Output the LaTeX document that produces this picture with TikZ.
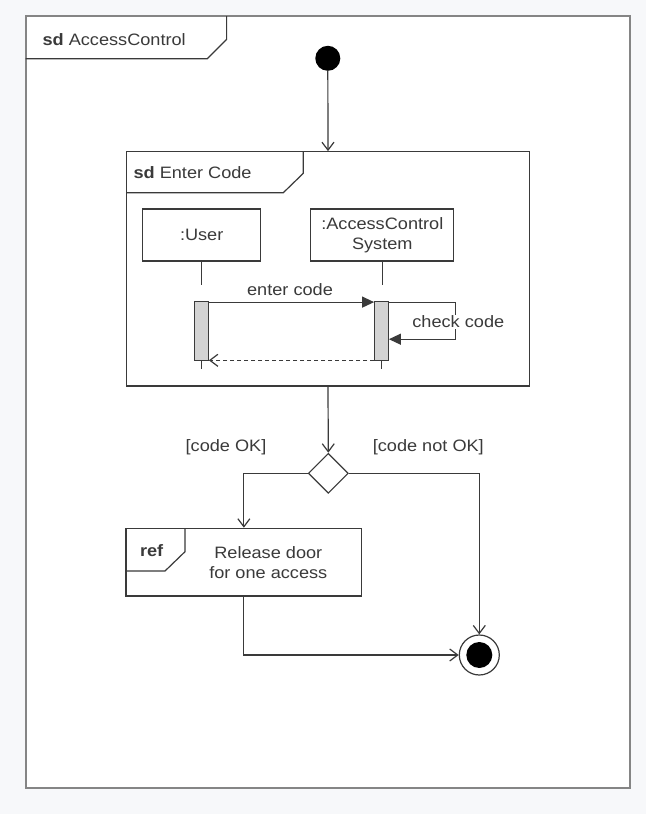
\documentclass[tikz,border=0pt]{standalone}
\usepackage{fontspec}
\setmainfont{Liberation Sans}[FakeStretch=1.1]
\usetikzlibrary{arrows.meta,shapes.geometric}
\definecolor{bgcol}{HTML}{F7F8FA}
\definecolor{linecol}{HTML}{3A3A3A}
\definecolor{framecol}{HTML}{858585}
\definecolor{barcol}{HTML}{D3D3D3}
\begin{document}
\begin{tikzpicture}[x=1pt,y=-1pt,
  every node/.style={font=\fontsize{16.5}{20}\selectfont,text=linecol},
  line/.style={draw=linecol,line width=1.2pt},
  flow/.style={line,-{Straight Barb[length=8pt,width=12pt]}},
  msg/.style={line,-{Triangle[length=12pt,width=11pt]}},
  reply/.style={line,dash pattern=on 4pt off 3pt,-{Straight Barb[length=8pt,width=12pt]}},
  lifebox/.style={line,rectangle,minimum width=118,minimum height=52,align=center,inner sep=1pt},
  actbar/.style={line,rectangle,fill=barcol,minimum width=13.6,minimum height=59,inner sep=0pt},
  frametab/.style={line,line join=miter}]
\fill[bgcol] (0,0) rectangle (646,814);
\draw[draw=framecol,line width=2pt,fill=white] (25.5,16) rectangle (630,788.3);
\draw[frametab] (25.5,58.7)--(207.2,58.7)--(226.6,39.3)--(226.6,16);
\node[anchor=west] (outertitle) at (39,39.5) {\textbf{sd} AccessControl};

\node (start) at (327.8,58.3) [circle,fill=black,minimum size=25,inner sep=0pt]{};

% sd Enter Code frame
\node (enter) at (328,268.9) [line,rectangle,minimum width=402.6,minimum height=234.3,inner sep=0pt]{};
\draw[frametab] (126.7,192.7)--(283.3,192.7)--(303.3,173.3)--(303.3,151.7);
\node[anchor=west] (entertitle) at (130,172.7) {\textbf{sd} Enter Code};

\node (user) at (201.7,235) [lifebox]{:User};
\node (acs) at (382.3,235) [lifebox,minimum width=143]{:AccessControl\\System};
\node (ubar) at (201.5,331.2) [actbar]{};
\node (abar) at (381.5,331.2) [actbar]{};
\coordinate (uend) at (201.5,369.3);
\coordinate (aend) at (381.5,369.3);
\draw[line] (user.south)--(user.south |- 0,285);
\draw[line] (acs.south)--(acs.south |- 0,285);
\draw[line] (ubar.south)--(uend);
\draw[line] (abar.south)--(aend);

\draw[msg] ([yshift=-1pt]ubar.north east)--([yshift=-1pt]abar.north west);
\node (entercode) at (290,290) {enter code};
\coordinate (selfturn) at (455.7,321);
\draw[msg] ([yshift=-1pt]abar.north east)-|(selfturn)|-([yshift=-8pt]abar.east);
\node (checkcode) at (458.3,321.7) [fill=white,inner sep=1pt]{check code};
\draw[reply] ([yshift=1pt]abar.south west)--([yshift=1pt]ubar.south east);

% decision
\draw[flow] (start)--(enter.north);
\node (dec) at (328.3,473.3) [diamond,line,fill=white,minimum width=40,minimum height=40,inner sep=0pt]{};
\draw[flow] (enter.south)--(dec.north);
\node (okguard) at (226,447.7) {[code OK]};
\node (notokguard) at (428.3,447.7) {[code not OK]};

% ref fragment
\node (ref) at (243.85,562.15) [line,rectangle,minimum width=235.7,minimum height=67.7,inner sep=0pt]{};
\draw[frametab] (126,571)--(165,571)--(185,551.7)--(185,528.3);
\node (reftag) at (151.7,550.7) {\textbf{ref}};
\node (release) at (268.3,563) [align=center]{Release door\\for one access};

\node (final) at (479.3,655) [circle,line,minimum size=40,inner sep=0pt]{};
\node (finaldot) at (final) [circle,fill=black,minimum size=26,inner sep=0pt]{};

\draw[flow] (dec.west)-|(ref.north);
\draw[flow] (dec.east)-|(final.north);
\draw[flow] (ref.south)|-(final.west);
\end{tikzpicture}
\end{document}
